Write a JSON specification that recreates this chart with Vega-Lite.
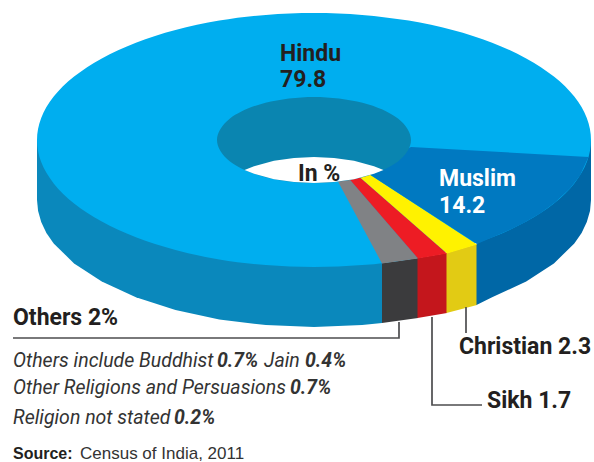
{"$schema":"https://vega.github.io/schema/vega-lite/v6.json","width":594,"height":462,"padding":0,"autosize":{"type":"none"},"background":"#ffffff","view":{"stroke":null},
"encoding":{"x":{"field":"x","type":"quantitative","scale":{"domain":[0,594],"nice":false,"zero":false},"axis":null},"y":{"field":"y","type":"quantitative","scale":{"domain":[462,0],"nice":false,"zero":false},"axis":null}},
"layer":[
{"data":{"values":[
{"part":"Hindu side","i":0,"x":37,"y":140},{"part":"Hindu side","i":1,"x":37,"y":200},{"part":"Hindu side","i":2,"x":38.1,"y":211.1},{"part":"Hindu side","i":3,"x":41.2,"y":222.1},{"part":"Hindu side","i":4,"x":46.4,"y":232.9},{"part":"Hindu side","i":5,"x":53.7,"y":243.4},{"part":"Hindu side","i":6,"x":74.1,"y":263.5},{"part":"Hindu side","i":7,"x":101.8,"y":281.6},{"part":"Hindu side","i":8,"x":135.9,"y":297.3},{"part":"Hindu side","i":9,"x":175.5,"y":310},{"part":"Hindu side","i":10,"x":219.3,"y":319.4},{"part":"Hindu side","i":11,"x":265.9,"y":325.1},{"part":"Hindu side","i":12,"x":314,"y":327},{"part":"Hindu side","i":13,"x":362.1,"y":325.1},{"part":"Hindu side","i":14,"x":382,"y":323},{"part":"Hindu side","i":15,"x":382,"y":263},
{"part":"Others side","i":0,"x":382,"y":263},{"part":"Others side","i":1,"x":418,"y":258},{"part":"Others side","i":2,"x":418,"y":318},{"part":"Others side","i":3,"x":382,"y":323},
{"part":"Sikh side","i":0,"x":417.5,"y":258},{"part":"Sikh side","i":1,"x":447,"y":253},{"part":"Sikh side","i":2,"x":447,"y":313},{"part":"Sikh side","i":3,"x":417.5,"y":318},
{"part":"Christian side","i":0,"x":446.5,"y":253},{"part":"Christian side","i":1,"x":477,"y":244},{"part":"Christian side","i":2,"x":477,"y":305},{"part":"Christian side","i":3,"x":446.5,"y":313},
{"part":"Muslim side","i":0,"x":476.5,"y":244},{"part":"Muslim side","i":1,"x":476.5,"y":305},{"part":"Muslim side","i":2,"x":492.1,"y":297.3},{"part":"Muslim side","i":3,"x":526.2,"y":281.6},{"part":"Muslim side","i":4,"x":553.9,"y":263.5},{"part":"Muslim side","i":5,"x":574.3,"y":243.4},{"part":"Muslim side","i":6,"x":581.6,"y":232.9},{"part":"Muslim side","i":7,"x":586.8,"y":222.1},{"part":"Muslim side","i":8,"x":590,"y":211.1},{"part":"Muslim side","i":9,"x":591,"y":200},{"part":"Muslim side","i":10,"x":591,"y":140}
]},
"mark":{"type":"line","filled":true,"interpolate":"linear"},
"encoding":{"order":{"field":"i","type":"quantitative"},"color":{"field":"part","type":"nominal","legend":null,"scale":{"domain":["Hindu side","Others side","Sikh side","Christian side","Muslim side","Hindu","Others","Sikh","Christian","Muslim","Hole","Through"],"range":["#0a88bc","#3b3b3d","#c4161c","#e2cb14","#0067a6","#00aeef","#808285","#ed1c24","#fff200","#0079c1","#0a85b0","#ffffff"]}}}},
{"data":{"values":[
{"part":"Hindu","i":0,"x":591,"y":140},{"part":"Hindu","i":1,"x":586.8,"y":162.1},{"part":"Hindu","i":2,"x":574.3,"y":183.4},{"part":"Hindu","i":3,"x":553.9,"y":203.5},{"part":"Hindu","i":4,"x":526.2,"y":221.6},{"part":"Hindu","i":5,"x":492.1,"y":237.3},{"part":"Hindu","i":6,"x":452.5,"y":250},{"part":"Hindu","i":7,"x":408.7,"y":259.4},{"part":"Hindu","i":8,"x":362.1,"y":265.1},{"part":"Hindu","i":9,"x":314,"y":267},{"part":"Hindu","i":10,"x":265.9,"y":265.1},{"part":"Hindu","i":11,"x":219.3,"y":259.4},{"part":"Hindu","i":12,"x":175.5,"y":250},{"part":"Hindu","i":13,"x":135.9,"y":237.3},{"part":"Hindu","i":14,"x":101.8,"y":221.6},{"part":"Hindu","i":15,"x":74.1,"y":203.5},{"part":"Hindu","i":16,"x":53.7,"y":183.4},{"part":"Hindu","i":17,"x":41.2,"y":162.1},{"part":"Hindu","i":18,"x":37,"y":140},{"part":"Hindu","i":19,"x":41.2,"y":117.9},{"part":"Hindu","i":20,"x":53.7,"y":96.6},{"part":"Hindu","i":21,"x":74.1,"y":76.5},{"part":"Hindu","i":22,"x":101.8,"y":58.4},{"part":"Hindu","i":23,"x":135.9,"y":42.7},{"part":"Hindu","i":24,"x":175.5,"y":30},{"part":"Hindu","i":25,"x":219.3,"y":20.6},{"part":"Hindu","i":26,"x":265.9,"y":14.9},{"part":"Hindu","i":27,"x":314,"y":13},{"part":"Hindu","i":28,"x":362.1,"y":14.9},{"part":"Hindu","i":29,"x":408.7,"y":20.6},{"part":"Hindu","i":30,"x":452.5,"y":30},{"part":"Hindu","i":31,"x":492.1,"y":42.7},{"part":"Hindu","i":32,"x":526.2,"y":58.4},{"part":"Hindu","i":33,"x":553.9,"y":76.5},{"part":"Hindu","i":34,"x":574.3,"y":96.6},{"part":"Hindu","i":35,"x":586.8,"y":117.9}
]},
"mark":{"type":"line","filled":true,"interpolate":"cardinal-closed"},
"encoding":{"order":{"field":"i","type":"quantitative"},"color":{"field":"part","type":"nominal","legend":null}}},
{"data":{"values":[
{"part":"Others","i":0,"x":335,"y":176},{"part":"Others","i":1,"x":345,"y":174},{"part":"Others","i":2,"x":418,"y":258.5},{"part":"Others","i":3,"x":382,"y":263.5},
{"part":"Sikh","i":0,"x":345,"y":174},{"part":"Sikh","i":1,"x":355,"y":173},{"part":"Sikh","i":2,"x":447,"y":253.5},{"part":"Sikh","i":3,"x":418,"y":258.5},
{"part":"Christian","i":0,"x":355,"y":173},{"part":"Christian","i":1,"x":362,"y":169.5},{"part":"Christian","i":2,"x":477,"y":244.5},{"part":"Christian","i":3,"x":447,"y":253.5},
{"part":"Muslim","i":0,"x":362,"y":169.5},{"part":"Muslim","i":1,"x":411,"y":147},{"part":"Muslim","i":2,"x":588.5,"y":157},{"part":"Muslim","i":3,"x":580,"y":175.6},{"part":"Muslim","i":4,"x":570,"y":188.5},{"part":"Muslim","i":5,"x":555,"y":202.6},{"part":"Muslim","i":6,"x":540,"y":213.4},{"part":"Muslim","i":7,"x":525,"y":222.3},{"part":"Muslim","i":8,"x":510,"y":229.7},{"part":"Muslim","i":9,"x":495,"y":236.2},{"part":"Muslim","i":10,"x":477,"y":244}
]},
"mark":{"type":"line","filled":true,"interpolate":"linear"},
"encoding":{"order":{"field":"i","type":"quantitative"},"color":{"field":"part","type":"nominal","legend":null}}},
{"data":{"values":[
{"part":"Hole","i":0,"x":411,"y":140},{"part":"Hole","i":1,"x":398,"y":161.5},{"part":"Hole","i":2,"x":362.5,"y":177.2},{"part":"Hole","i":3,"x":314,"y":183},{"part":"Hole","i":4,"x":265.5,"y":177.2},{"part":"Hole","i":5,"x":230,"y":161.5},{"part":"Hole","i":6,"x":217,"y":140},{"part":"Hole","i":7,"x":230,"y":118.5},{"part":"Hole","i":8,"x":265.5,"y":102.8},{"part":"Hole","i":9,"x":314,"y":97},{"part":"Hole","i":10,"x":362.5,"y":102.8},{"part":"Hole","i":11,"x":398,"y":118.5}
]},
"mark":{"type":"line","filled":true,"interpolate":"cardinal-closed"},
"encoding":{"order":{"field":"i","type":"quantitative"},"color":{"field":"part","type":"nominal","legend":null}}},
{"data":{"values":[
{"part":"Through","i":0,"x":244.5,"y":170},{"part":"Through","i":1,"x":254,"y":166.2},{"part":"Through","i":2,"x":274,"y":160.8},{"part":"Through","i":3,"x":294,"y":157.9},{"part":"Through","i":4,"x":314,"y":157},{"part":"Through","i":5,"x":334,"y":157.9},{"part":"Through","i":6,"x":354,"y":160.8},{"part":"Through","i":7,"x":374,"y":166.2},{"part":"Through","i":8,"x":383.5,"y":170},{"part":"Through","i":9,"x":374,"y":173.8},{"part":"Through","i":10,"x":354,"y":179.2},{"part":"Through","i":11,"x":334,"y":182.1},{"part":"Through","i":12,"x":314,"y":183},{"part":"Through","i":13,"x":294,"y":182.1},{"part":"Through","i":14,"x":274,"y":179.2},{"part":"Through","i":15,"x":254,"y":173.8}
]},
"mark":{"type":"line","filled":true,"interpolate":"linear"},
"encoding":{"order":{"field":"i","type":"quantitative"},"color":{"field":"part","type":"nominal","legend":null}}},
{"data":{"values":[
{"part":"Others","i":0,"x":13,"y":338},{"part":"Others","i":1,"x":399,"y":338},{"part":"Others","i":2,"x":399,"y":322},
{"part":"Sikh","i":0,"x":432,"y":317},{"part":"Sikh","i":1,"x":432,"y":405},{"part":"Sikh","i":2,"x":482,"y":405},
{"part":"Christian","i":0,"x":466,"y":307},{"part":"Christian","i":1,"x":466,"y":333}
]},
"mark":{"type":"line","stroke":"#4d4d4f","strokeWidth":1.7,"interpolate":"linear"},
"encoding":{"order":{"field":"i","type":"quantitative"},"detail":{"field":"part"}}},
{"data":{"values":[
{"label":"Hindu","x":280,"y":61},{"label":"79.8","x":280,"y":87},{"label":"In %","x":298,"y":181},{"label":"Christian 2.3","x":459,"y":354},{"label":"Sikh 1.7","x":487,"y":408},{"label":"Others 2%","x":13,"y":325}
]},
"mark":{"type":"text","align":"left","baseline":"alphabetic","font":"Roboto","fontWeight":"bold","fontSize":23,"fill":"#231f20"},
"encoding":{"text":{"field":"label"}}},
{"data":{"values":[
{"label":"Muslim","x":439,"y":186},{"label":"14.2","x":439,"y":213}
]},
"mark":{"type":"text","align":"left","baseline":"alphabetic","font":"Roboto","fontWeight":"bold","fontSize":23,"fill":"#ffffff"},
"encoding":{"text":{"field":"label"}}},
{"data":{"values":[
{"label":"Others include Buddhist","x":13,"y":367},{"label":"Jain","x":264,"y":367},{"label":"Other Religions and Persuasions","x":13,"y":394},{"label":"Religion not stated","x":13,"y":424}
]},
"mark":{"type":"text","align":"left","baseline":"alphabetic","font":"Roboto","fontStyle":"italic","fontSize":19.5,"fill":"#333333"},
"encoding":{"text":{"field":"label"}}},
{"data":{"values":[
{"label":"0.7%","x":217,"y":367},{"label":"0.4%","x":305,"y":367},{"label":"0.7%","x":290,"y":394},{"label":"0.2%","x":174,"y":424}
]},
"mark":{"type":"text","align":"left","baseline":"alphabetic","font":"Roboto","fontStyle":"italic","fontWeight":"bold","fontSize":19.5,"fill":"#333333"},
"encoding":{"text":{"field":"label"}}},
{"data":{"values":[{"label":"Source:","x":13,"y":459}]},
"mark":{"type":"text","align":"left","baseline":"alphabetic","font":"Liberation Sans","fontWeight":"bold","fontSize":16,"fill":"#231f20"},
"encoding":{"text":{"field":"label"}}},
{"data":{"values":[{"label":"Census of India, 2011","x":80,"y":459}]},
"mark":{"type":"text","align":"left","baseline":"alphabetic","font":"Liberation Sans","fontSize":17,"fill":"#333333"},
"encoding":{"text":{"field":"label"}}}
]}
